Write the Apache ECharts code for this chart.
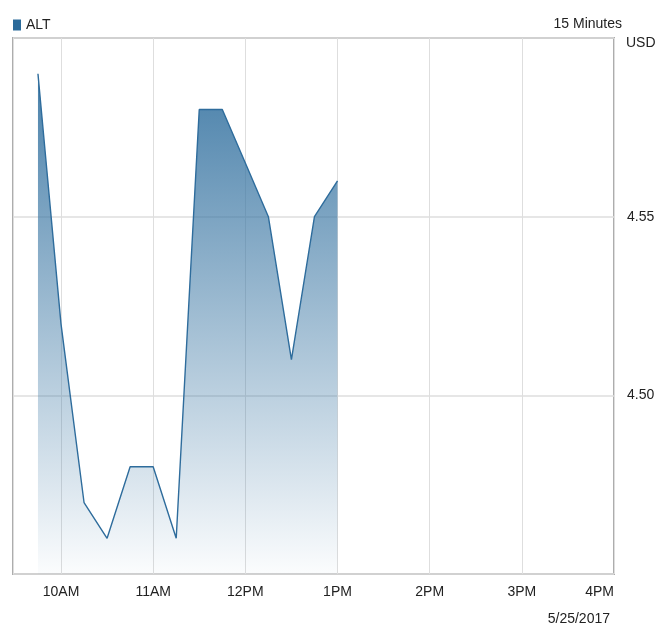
<!DOCTYPE html>
<html>
<head>
<meta charset="utf-8">
<script src="https://cdn.jsdelivr.net/npm/echarts@6/dist/echarts.min.js"></script>
<style>html,body{margin:0;padding:0;background:#fff;}#c{width:659px;height:626px;}</style>
</head>
<body>
<div id="c"></div>
<script>
var times = ['9:45','10:00','10:15','10:30','10:45','11:00','11:15','11:30','11:45','12:00','12:15','12:30','12:45','13:00'];
var prices = [4.59, 4.52, 4.47, 4.46, 4.48, 4.48, 4.46, 4.58, 4.58, 4.565, 4.55, 4.51, 4.55, 4.56];
var yTicks = [4.50, 4.55];
var seriesName = 'ALT';

function toDate(t){
  var p = t.split(':');
  return new Date(2017, 4, 25, +p[0], +p[1], 0).getTime();
}
var data = times.map(function(t, i){ return [toDate(t), prices[i]]; });
var xMin = new Date(2017, 4, 25, 9, 28, 45).getTime();
var xMax = new Date(2017, 4, 25, 16, 0, 0).getTime();
var FONT = 'Liberation Sans, Arial, sans-serif';

var chart = echarts.init(document.getElementById('c'));
chart.setOption({
  animation: false,
  backgroundColor: '#fff',
  textStyle: {fontFamily: FONT},
  legend: {
    data: [seriesName], left: 8, top: 13, icon: 'rect', itemWidth: 8, itemHeight: 11, itemGap: 5,
    textStyle: {fontSize: 14, color: '#222', fontFamily: FONT}
  },
  graphic: [
    {type: 'text', right: 37, top: 17, style: {text: '15 Minutes', fontSize: 14, fill: '#222', fontFamily: FONT}},
    {type: 'text', left: 626, top: 36, style: {text: 'USD', fontSize: 14, fill: '#222', fontFamily: FONT}},
    {type: 'text', right: 49, top: 612, style: {text: '5/25/2017', fontSize: 14, fill: '#222', fontFamily: FONT}}
  ],
  grid: {left: 13, right: 45, top: 38, bottom: 52, show: true, borderColor: '#adadad', borderWidth: 2, containLabel: false},
  xAxis: {
    type: 'time', min: xMin, max: xMax,
    minInterval: 3600 * 1000, maxInterval: 3600 * 1000,
    axisLine: {show: false},
    axisTick: {show: false},
    splitLine: {show: true, lineStyle: {color: '#dedede', width: 1}},
    axisLabel: {
      fontSize: 14, color: '#222', margin: 11, fontFamily: FONT, hideOverlap: false,
      showMaxLabel: true, showMinLabel: true, alignMaxLabel: 'right',
      formatter: function(v){
        var d = new Date(v);
        if (d.getMinutes() !== 0 || d.getSeconds() !== 0) return '';
        var h = d.getHours();
        return (h % 12 || 12) + (h < 12 ? 'AM' : 'PM');
      }
    }
  },
  yAxis: {
    type: 'value', position: 'right', min: 4.45, max: 4.60, interval: 0.05,
    axisLine: {show: false}, axisTick: {show: false},
    splitLine: {show: true, lineStyle: {color: '#dedede', width: 1.5}},
    axisLabel: {
      fontSize: 14, color: '#222', margin: 13, fontFamily: FONT,
      showMinLabel: false, showMaxLabel: false,
      formatter: function(v){
        var r = Math.round(v * 100) / 100;
        for (var i = 0; i < yTicks.length; i++) { if (Math.abs(yTicks[i] - r) < 1e-6) return r.toFixed(2); }
        return '';
      }
    }
  },
  series: [{
    name: seriesName, type: 'line', data: data, showSymbol: false, symbol: 'none',
    itemStyle: {color: '#2a6a9a'},
    lineStyle: {color: '#2e6c9c', width: 1.4},
    areaStyle: {
      origin: 'start', opacity: 1,
      color: new echarts.graphic.LinearGradient(0, 0, 0, 1, [
        {offset: 0, color: 'rgba(58,118,163,0.92)'},
        {offset: 1, color: 'rgba(58,118,163,0.02)'}
      ])
    }
  }]
});
</script>
</body>
</html>
